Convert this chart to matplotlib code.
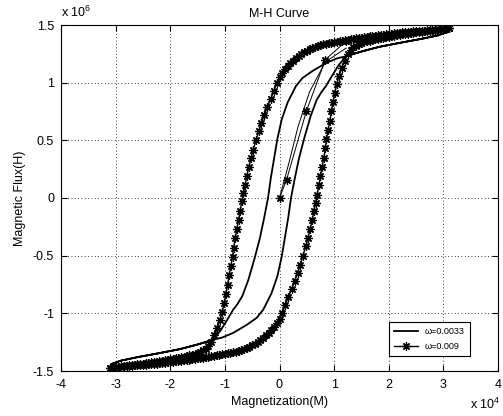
import numpy as np
import matplotlib
matplotlib.use('Agg')
import matplotlib.pyplot as plt

plt.rcParams['font.family'] = ['Liberation Sans', 'DejaVu Sans']
plt.rcParams['axes.unicode_minus'] = False
plt.rcParams['mathtext.fontset'] = 'custom'
plt.rcParams['mathtext.rm'] = 'Liberation Sans'

# magnetization in units of 1e4, flux in units of 1e6
# w = 0.0033 : descending branch (ascending branch is the point mirror)
m_slow_down = [3.08, 2.90, 2.60, 2.20, 1.82, 1.50, 1.22, 1.05, 0.85, 0.60, 0.42,
               0.30, 0.15, 0.04, -0.04, -0.10, -0.16, -0.21, -0.28, -0.36,
               -0.46, -0.57, -0.68, -0.77, -0.85, -0.95, -1.08, -1.22, -1.50,
               -1.82, -2.20, -2.60, -2.90, -3.08]
h_slow_down = [1.44, 1.41, 1.38, 1.345, 1.31, 1.27, 1.23, 1.21, 1.17, 1.10, 1.04,
               0.97, 0.83, 0.68, 0.51, 0.34, 0.17, 0.0, -0.17, -0.35,
               -0.53, -0.71, -0.85, -0.92, -0.97, -1.05, -1.15, -1.23, -1.27,
               -1.31, -1.345, -1.38, -1.41, -1.44]
m_slow_init = [0.0, 0.17, 0.34, 0.55, 0.84, 1.22]
h_slow_init = [0.0, 0.30, 0.62, 0.92, 1.18, 1.30]

# w = 0.009 : descending branch (ascending branch is the point mirror)
m_fast_down = [3.10, 3.05, 3.00, 2.95, 2.90, 2.85, 2.80, 2.75, 2.70, 2.65, 2.60,
               2.55, 2.50, 2.45, 2.40, 2.35, 2.30, 2.25, 2.20, 2.15, 2.10, 2.05,
               2.00, 1.95, 1.90, 1.85, 1.80, 1.75, 1.70, 1.65, 1.60, 1.55, 1.50,
               1.45, 1.40, 1.35, 1.30, 1.25, 1.20, 1.15, 1.10, 1.05, 1.00, 0.95,
               0.90, 0.85, 0.80, 0.75, 0.70, 0.65, 0.60, 0.55, 0.50, 0.45, 0.40,
               0.35, 0.30, 0.25, 0.20, 0.15, 0.10, 0.05, 0.00,
               -0.05, -0.10, -0.16, -0.22, -0.28, -0.33, -0.38, -0.43, -0.48,
               -0.52, -0.56, -0.60, -0.63, -0.66, -0.69, -0.72, -0.75, -0.78,
               -0.81, -0.84, -0.86, -0.89, -0.92, -0.95, -0.98, -1.01, -1.05,
               -1.09, -1.14, -1.19,
               -1.25, -1.30, -1.35, -1.40, -1.45, -1.50, -1.55, -1.60, -1.65,
               -1.70, -1.75, -1.80, -1.85, -1.90, -1.95, -2.00, -2.05, -2.10,
               -2.15, -2.20, -2.25, -2.30, -2.35, -2.40, -2.45, -2.50, -2.55,
               -2.60, -2.65, -2.70, -2.75, -2.80, -2.85, -2.90, -2.95, -3.00,
               -3.05, -3.10]
h_fast_down = [1.470, 1.468, 1.466, 1.464, 1.462, 1.460, 1.458, 1.456, 1.454, 1.452,
               1.450, 1.448, 1.446, 1.444, 1.442, 1.440, 1.437, 1.435, 1.432, 1.430,
               1.427, 1.425, 1.422, 1.419, 1.416, 1.413, 1.410, 1.407, 1.404, 1.401,
               1.397, 1.394, 1.390, 1.387, 1.384, 1.380, 1.376, 1.372, 1.368, 1.364,
               1.360, 1.356, 1.352, 1.348, 1.343, 1.338, 1.332, 1.325, 1.318, 1.310,
               1.300, 1.289, 1.276, 1.263, 1.248, 1.231, 1.212, 1.192, 1.170, 1.146,
               1.118, 1.088, 1.050,
               1.00, 0.93, 0.86, 0.79, 0.72, 0.65, 0.58, 0.50, 0.42,
               0.35, 0.27, 0.19, 0.11, 0.04, -0.03, -0.11, -0.19, -0.27,
               -0.35, -0.43, -0.51, -0.59, -0.67, -0.75, -0.83, -0.91, -0.99,
               -1.06, -1.13, -1.19,
               -1.250, -1.285, -1.305, -1.320, -1.333, -1.343, -1.351, -1.358, -1.364,
               -1.370, -1.375, -1.380, -1.385, -1.390, -1.394, -1.398, -1.402, -1.406,
               -1.410, -1.414, -1.418, -1.421, -1.425, -1.428, -1.432, -1.435, -1.438,
               -1.441, -1.444, -1.447, -1.450, -1.453, -1.456, -1.459, -1.462, -1.465,
               -1.468, -1.470]
m_fast_init = [0.0, 0.13, 0.49, 0.84, 1.22]
h_fast_init = [0.0, 0.16, 0.75, 1.20, 1.36]

labels = ['\u03c9=0.0033', '\u03c9=0.009']

fig = plt.figure(figsize=(5.03, 4.16), dpi=100)
ax = fig.add_axes([61 / 503, 45 / 416, 437 / 503, 346 / 416])

# slow loop: descending then mirrored ascending
m_slow = np.concatenate([m_slow_down, -np.array(m_slow_down)])
h_slow = np.concatenate([h_slow_down, -np.array(h_slow_down)])
ax.plot(m_slow_init, h_slow_init, color='k', lw=0.7)
ax.plot(m_slow, h_slow, color='k', lw=1.3, label=labels[0])

m_fast = np.concatenate([m_fast_down, -np.array(m_fast_down)])
h_fast = np.concatenate([h_fast_down, -np.array(h_fast_down)])
star = dict(color='k', marker=(8, 2, 0), markersize=6, markeredgewidth=0.9)
ax.plot(m_fast_init, h_fast_init, lw=0.7, **star)
ax.plot(m_fast, h_fast, lw=1.0, label=labels[1], **star)

ax.set_xlim(-4, 4)
ax.set_ylim(-1.5, 1.5)
ax.set_xticks(np.arange(-4, 5, 1))
ax.set_yticks([-1.5, -1, -0.5, 0, 0.5, 1, 1.5])
ax.set_xticklabels(['-4', '-3', '-2', '-1', '0', '1', '2', '3', '4'])
ax.set_yticklabels(['-1.5', '-1', '-0.5', '0', '0.5', '1', '1.5'])
ax.tick_params(direction='in', length=4, width=0.8, top=True, right=True,
               labelsize=9, colors='k')
ax.tick_params(axis='x', pad=6)
ax.tick_params(axis='y', pad=5)
ax.grid(True, color='k', linestyle=(0, (1, 3)), lw=0.6)
for s in ax.spines.values():
    s.set_linewidth(0.8)
    s.set_color('k')

ax.set_title('M-H Curve', fontsize=9, pad=6)
ax.set_xlabel('Magnetization(M)', fontsize=9, labelpad=3)
ax.set_ylabel('Magnetic Flux(H)', fontsize=9, labelpad=5)

ax.text(0.0, 1.015, r'x 10$^{\mathregular{6}}$', transform=ax.transAxes,
        fontsize=9, ha='left', va='bottom')
ax.text(0.936, -0.118, r'x 10$^{\mathregular{4}}$', transform=ax.transAxes,
        fontsize=9, ha='left', va='bottom')

leg = ax.legend(loc='lower right', bbox_to_anchor=(0.936, 0.043), fontsize=6.5,
                fancybox=False, framealpha=1, edgecolor='k', borderaxespad=0,
                handlelength=2.6, handletextpad=0.8, labelspacing=0.6,
                borderpad=0.6)
leg.get_frame().set_linewidth(0.8)

fig.savefig('out.png', dpi=100)
